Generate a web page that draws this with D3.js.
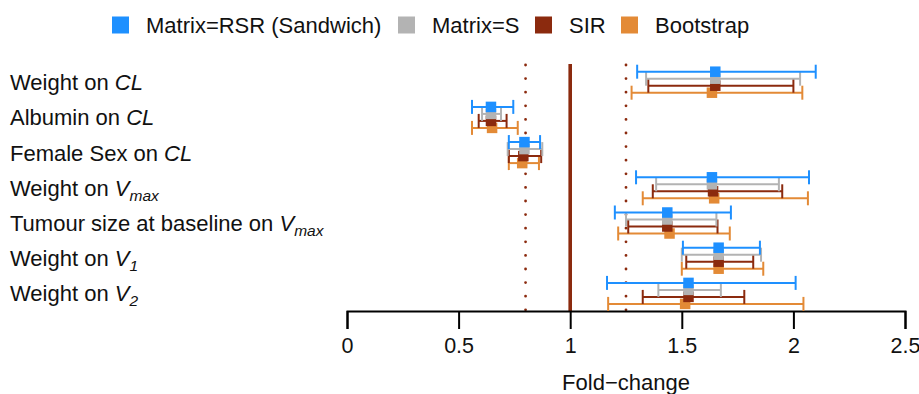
<!DOCTYPE html>
<html>
<head>
<meta charset="utf-8">
<script src="https://cdn.jsdelivr.net/npm/d3@7"></script>
<style>
  html, body { margin: 0; padding: 0; background: #fff; }
  svg { display: block; font-family: "Liberation Sans", Arial, Helvetica, sans-serif; }
</style>
</head>
<body>
<svg id="chart" width="919" height="394"></svg>
<script>
// Covariate effects (fold-change) with 95% intervals from four uncertainty methods
const categories = [
  "Weight on CL",
  "Albumin on CL",
  "Female Sex on CL",
  "Weight on Vmax",
  "Tumour size at baseline on Vmax",
  "Weight on V1",
  "Weight on V2"
];
// label pieces: plain text, italic parameter, italic subscript
const labelText = ["Weight on ", "Albumin on ", "Female Sex on ", "Weight on ", "Tumour size at baseline on ", "Weight on ", "Weight on "];
const labelParam = ["CL", "CL", "CL", "V", "V", "V", "V"];
const labelSub = ["", "", "", "max", "max", "1", "2"];

const seriesNames = ["Matrix=RSR (Sandwich)", "Matrix=S", "SIR", "Bootstrap"];
const seriesColors = ["#1E90FF", "#B3B3B3", "#8B2A0E", "#E38A36"];

const rsrEst = [1.650, 0.645, 0.795, 1.635, 1.435, 1.665, 1.530];
const rsrLo  = [1.300, 0.560, 0.725, 1.295, 1.200, 1.505, 1.165];
const rsrHi  = [2.100, 0.745, 0.865, 2.070, 1.720, 1.850, 2.010];

const sEst = [1.650, 0.645, 0.795, 1.635, 1.435, 1.665, 1.530];
const sLo  = [1.340, 0.605, 0.720, 1.385, 1.250, 1.500, 1.395];
const sHi  = [2.030, 0.690, 0.875, 1.935, 1.655, 1.855, 1.675];

const sirEst = [1.650, 0.645, 0.790, 1.640, 1.435, 1.665, 1.530];
const sirLo  = [1.350, 0.590, 0.725, 1.370, 1.260, 1.520, 1.325];
const sirHi  = [2.000, 0.715, 0.870, 1.950, 1.660, 1.820, 1.780];

const bootEst = [1.635, 0.650, 0.785, 1.645, 1.445, 1.665, 1.515];
const bootLo  = [1.275, 0.560, 0.725, 1.325, 1.215, 1.500, 1.170];
const bootHi  = [2.040, 0.765, 0.860, 2.065, 1.715, 1.865, 2.045];

const xTicks = [0, 0.5, 1, 1.5, 2, 2.5];
const xTickLabels = ["0", "0.5", "1", "1.5", "2", "2.5"];
const refSolid = 1;
const refDotted = [0.8, 1.25];

const estimates = [rsrEst, sEst, sirEst, bootEst];
const lowers = [rsrLo, sLo, sirLo, bootLo];
const uppers = [rsrHi, sHi, sirHi, bootHi];

const svg = d3.select("#chart");

const x = d3.scaleLinear().domain([0, 2.5]).range([347, 905]);
const y = d3.scaleBand().domain(categories).range([64.6, 311]);
const yOff = d3.scalePoint().domain(seriesNames).range([-10.5, 10.5]);

// reference lines
const ref = svg.append("g");
ref.append("line")
  .attr("x1", x(refSolid)).attr("x2", x(refSolid))
  .attr("y1", 64).attr("y2", 311)
  .attr("stroke", "#8B2A0E").attr("stroke-width", 3.6);
ref.selectAll("line.dot").data(refDotted).join("line")
  .attr("class", "dot")
  .attr("x1", d => x(d)).attr("x2", d => x(d))
  .attr("y1", 65).attr("y2", 311)
  .attr("stroke", "#8B2A0E").attr("stroke-width", 2.8)
  .attr("stroke-linecap", "round")
  .attr("stroke-dasharray", "0 13.6");

// x axis
const axis = d3.axisBottom(x).tickValues(xTicks)
  .tickFormat((d, i) => xTickLabels[i]).tickSize(18).tickPadding(9);
const gx = svg.append("g").attr("transform", "translate(0,311)").call(axis);
gx.select(".domain").attr("stroke", "#000").attr("stroke-width", 2);
gx.selectAll(".tick line").attr("stroke", "#000").attr("stroke-width", 2);
gx.selectAll(".tick text").attr("fill", "#111").attr("font-size", 21.5)
  .attr("font-family", "Liberation Sans, Arial, sans-serif");

svg.append("text")
  .attr("x", (x(0) + x(2.5)) / 2).attr("y", 390)
  .attr("text-anchor", "middle").attr("font-size", 22).attr("fill", "#111")
  .text("Fold\u2212change");

// covariate labels
const labels = svg.append("g");
categories.forEach((c, i) => {
  const t = labels.append("text")
    .attr("x", 10)
    .attr("y", y(c) + y.bandwidth() / 2 + 8)
    .attr("font-size", 22).attr("fill", "#111");
  t.append("tspan").text(labelText[i]);
  t.append("tspan").attr("font-style", "italic").text(labelParam[i]);
  if (labelSub[i]) {
    t.append("tspan").attr("font-style", "italic").attr("font-size", 15.5)
      .attr("dy", 5).text(labelSub[i]);
  }
});

// interval bars and point estimates, last series underneath
const capHalf = 7;
const sq = 10.5;
for (let s = seriesNames.length - 1; s >= 0; s--) {
  const name = seriesNames[s];
  const col = seriesColors[s];
  const rows = categories.map((c, i) => ({
    yc: y(c) + y.bandwidth() / 2 + yOff(name),
    est: estimates[s][i], lo: lowers[s][i], hi: uppers[s][i]
  }));
  const g = svg.append("g").attr("stroke", col).attr("stroke-width", 2);
  g.selectAll("line.h").data(rows).join("line").attr("class", "h")
    .attr("x1", d => x(d.lo)).attr("x2", d => x(d.hi))
    .attr("y1", d => d.yc).attr("y2", d => d.yc);
  g.selectAll("line.l").data(rows).join("line").attr("class", "l")
    .attr("x1", d => x(d.lo)).attr("x2", d => x(d.lo))
    .attr("y1", d => d.yc - capHalf).attr("y2", d => d.yc + capHalf);
  g.selectAll("line.r").data(rows).join("line").attr("class", "r")
    .attr("x1", d => x(d.hi)).attr("x2", d => x(d.hi))
    .attr("y1", d => d.yc - capHalf).attr("y2", d => d.yc + capHalf);
  svg.append("g").selectAll("rect").data(rows).join("rect")
    .attr("x", d => x(d.est) - sq / 2).attr("y", d => d.yc - sq / 2)
    .attr("width", sq).attr("height", sq).attr("fill", col);
}

// legend
const legendX = [112, 398, 535, 621];
const lg = svg.append("g");
seriesNames.forEach((n, i) => {
  lg.append("rect").attr("x", legendX[i]).attr("y", 16.5)
    .attr("width", 17).attr("height", 17).attr("fill", seriesColors[i]);
  lg.append("text").attr("x", legendX[i] + 34).attr("y", 33)
    .attr("font-size", 22).attr("fill", "#111").text(n);
});
</script>
</body>
</html>
